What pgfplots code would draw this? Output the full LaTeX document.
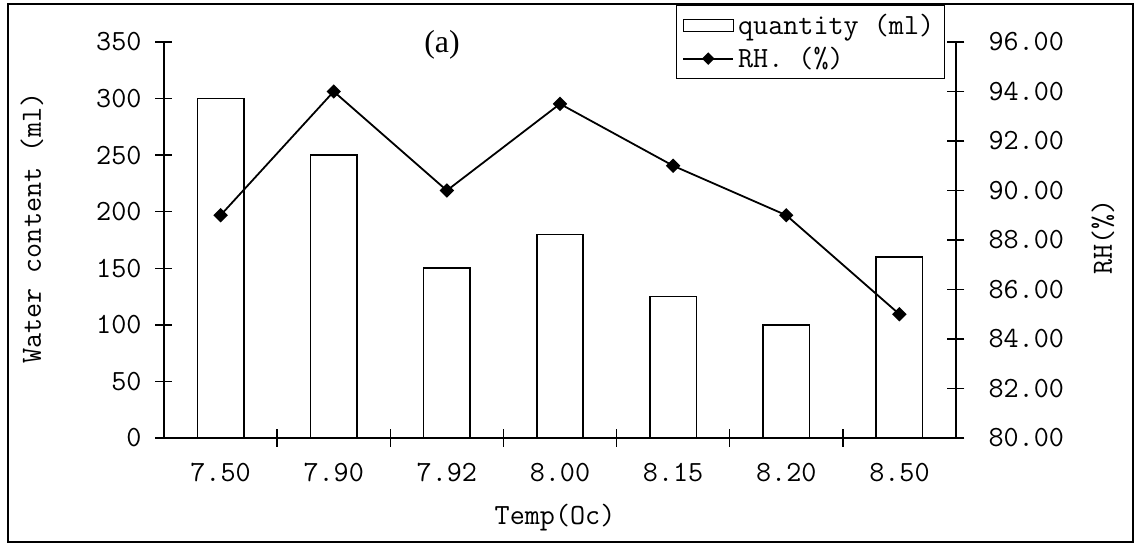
\documentclass[border=0pt]{standalone}
\usepackage{pgfplots}
\pgfplotsset{compat=1.18}
\usepackage{fontspec}
\newfontfamily\timesfont{Liberation Serif}
\newcommand{\mfont}{\ttfamily\fontsize{14.7}{17}\selectfont}

\begin{document}
\begin{tikzpicture}[font=\mfont]
\useasboundingbox (-82bp,-53.5bp) rectangle (485.5bp,219bp);
\pgfplotsset{
  common/.style={
    at={(0,0)}, anchor=south west,
    scale only axis, width=396bp, height=198bp,
    xmin=-0.5, xmax=6.5,
    tick align=center,
    major tick length=8.5bp, minor tick length=8.5bp,
    every tick/.style={black, line width=0.7pt},
    axis line style={black, line width=0.7pt},
    ticklabel style={font=\mfont},
    /pgf/number format/assume math mode=true,
  }
}
\begin{axis}[common,
  ymin=0, ymax=350,
  axis x line*=bottom, axis y line*=left,
  xtick={0,...,6},
  xticklabels={7.50,7.90,7.92,8.00,8.15,8.20,8.50},
  major x tick style={draw=none},
  minor xtick={0.5,1.5,2.5,3.5,4.5,5.5},
  ytick={0,50,...,350},
  yticklabel shift=3.5bp,
  xticklabel shift=5bp,
]
\addplot[ybar, bar width=0.41, fill=white, draw=black, line width=0.8pt]
  coordinates {(0,300) (1,250) (2,150) (3,180) (4,125) (5,100) (6,160)};
\end{axis}
\begin{axis}[common,
  ymin=80, ymax=96,
  axis y line*=right, axis x line=none,
  ytick={80,82,...,96},
  yticklabel shift=8.5bp,
  yticklabel style={/pgf/number format/.cd, fixed, fixed zerofill, precision=2},
  legend style={at={(rel axis cs:0.986,1.0934)}, anchor=north east,
    draw=black, line width=0.7pt, inner xsep=3bp, inner ysep=2bp,
    font=\mfont, row sep=1bp},
  legend cell align=left,
]
\addlegendimage{legend image code/.code={\draw[black,line width=0.7pt,fill=white] (0bp,-3bp) rectangle (25bp,3bp);}}
\addlegendentry{quantity (ml)}
\addplot[black, line width=0.9pt, mark=square*, mark size=2.1bp, mark options={rotate=45},
  legend image code/.code={\draw[black,line width=0.9pt] (0bp,0bp) -- (25bp,0bp);
    \fill[black] (12.5bp,2.5bp) -- (15bp,0bp) -- (12.5bp,-2.5bp) -- (10bp,0bp) -- cycle;}]
  coordinates {(0,89) (1,94) (2,90) (3,93.5) (4,91) (5,89) (6,85)};
\addlegendentry{RH. (\%)}
\end{axis}
\draw[line width=0.8pt] (-78bp,-52bp) rectangle (484.5bp,217bp);
\node[rotate=90] at (-66bp,105bp) {Water content (ml)};
\node[rotate=90] at (469.5bp,100.5bp) {RH(\%)};
\node at (195.5bp,-40bp) {Temp(Oc)};
\node[font=\timesfont\fontsize{16}{18}\selectfont] at (139bp,196.5bp) {(a)};
\end{tikzpicture}
\end{document}
